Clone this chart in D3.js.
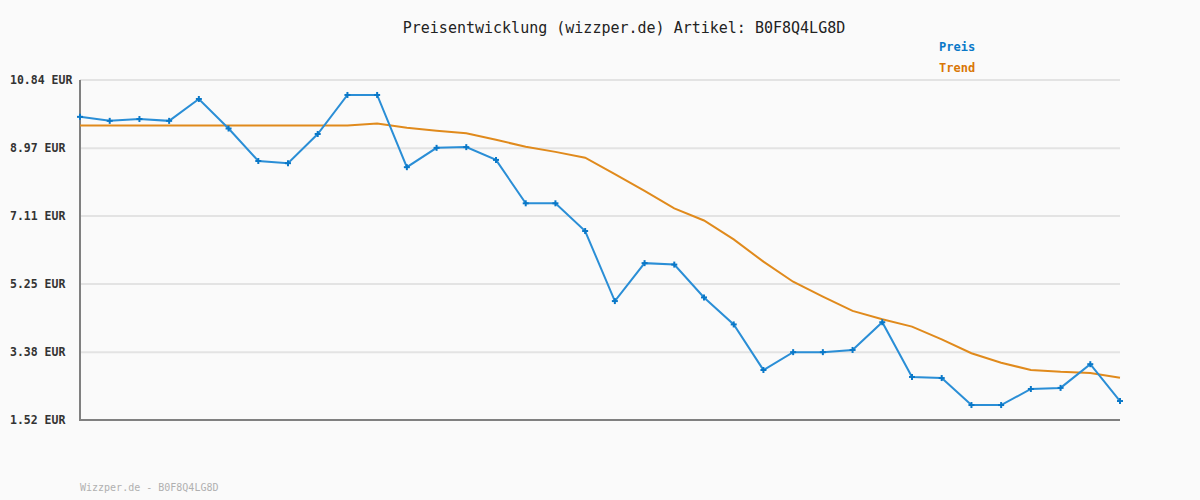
<!DOCTYPE html>
<html><head><meta charset="utf-8">
<script src="https://cdn.jsdelivr.net/npm/d3@7"></script>
<style>
html,body{margin:0;padding:0;background:#fafafa;}
svg{display:block;}
text{font-family:"DejaVu Sans Mono","Liberation Mono",monospace;}
</style></head>
<body>
<script>
const title = "Preisentwicklung (wizzper.de) Artikel: B0F8Q4LG8D";
const footer = "Wizzper.de - B0F8Q4LG8D";
const seriesNames = ["Preis", "Trend"];
const yTicks = [1.52, 3.38, 5.25, 7.11, 8.97, 10.84];
const yTickLabels = ["1.52 EUR", "3.38 EUR", "5.25 EUR", "7.11 EUR", "8.97 EUR", "10.84 EUR"];
const preis = [9.83, 9.72, 9.77, 9.72, 10.32, 9.51, 8.62, 8.56, 9.36, 10.43, 10.43, 8.45, 8.98, 9.00, 8.65, 7.46, 7.46, 6.70, 4.78, 5.82, 5.78, 4.88, 4.14, 2.89, 3.38, 3.38, 3.44, 4.20, 2.70, 2.67, 1.93, 1.93, 2.37, 2.40, 3.05, 2.04];
const trend = [9.59, 9.59, 9.59, 9.59, 9.59, 9.59, 9.59, 9.59, 9.59, 9.59, 9.65, 9.53, 9.45, 9.38, 9.20, 9.01, 8.87, 8.71, 8.26, 7.80, 7.32, 6.99, 6.47, 5.86, 5.31, 4.90, 4.51, 4.28, 4.08, 3.73, 3.35, 3.09, 2.89, 2.84, 2.81, 2.68];

const W = 1200, H = 500;
const svg = d3.select("body").append("svg").attr("width", W).attr("height", H);
svg.append("rect").attr("width", W).attr("height", H).attr("fill", "#fafafa");

const x = d3.scaleLinear().domain([0, preis.length - 1]).range([80, 1120]);
const y = d3.scaleLinear().domain([1.52, 10.84]).range([420, 80]);

// gridlines
svg.append("g").selectAll("line").data(yTicks.slice(1)).join("line")
  .attr("x1", 80).attr("x2", 1120)
  .attr("y1", d => y(d)).attr("y2", d => y(d))
  .attr("stroke", "#e3e3e3").attr("stroke-width", 2);

// y labels
svg.append("g").selectAll("text").data(yTicks).join("text")
  .attr("x", 10).attr("y", d => y(d)).attr("dy", "0.35em")
  .attr("font-size", 11.5).attr("font-weight", "bold").attr("fill", "#333")
  .text((d, i) => yTickLabels[i]);

// axes
svg.append("line").attr("x1", 80).attr("x2", 80).attr("y1", 80).attr("y2", 421)
  .attr("stroke", "#808080").attr("stroke-width", 2);
svg.append("line").attr("x1", 79).attr("x2", 1120).attr("y1", 420).attr("y2", 420)
  .attr("stroke", "#808080").attr("stroke-width", 2);

const line = d3.line().x((d, i) => x(i)).y(d => y(d));

svg.append("path").datum(trend).attr("d", line)
  .attr("fill", "none").attr("stroke", "#e08a1c").attr("stroke-width", 2);
svg.append("path").datum(preis).attr("d", line)
  .attr("fill", "none").attr("stroke", "#2a8ed6").attr("stroke-width", 2);

// markers
const mk = svg.append("g").attr("stroke", "#0a78c8").attr("stroke-width", 2);
preis.forEach((d, i) => {
  mk.append("line").attr("x1", x(i) - 3).attr("x2", x(i) + 3).attr("y1", y(d)).attr("y2", y(d));
  mk.append("line").attr("x1", x(i)).attr("x2", x(i)).attr("y1", y(d) - 3).attr("y2", y(d) + 3);
});

// title
svg.append("text").attr("x", 624).attr("y", 33).attr("text-anchor", "middle")
  .attr("font-size", 15).attr("fill", "#222").text(title);

// legend
const legendColors = ["#0a78c8", "#d97706"];
svg.append("g").selectAll("text").data(seriesNames).join("text")
  .attr("x", 939).attr("y", (d, i) => 51 + i * 21)
  .attr("font-size", 12).attr("font-weight", "bold")
  .attr("fill", (d, i) => legendColors[i]).text(d => d);

// footer
svg.append("text").attr("x", 80).attr("y", 491).attr("font-size", 10)
  .attr("fill", "#b0b0b0").text(footer);
</script>
</body></html>
